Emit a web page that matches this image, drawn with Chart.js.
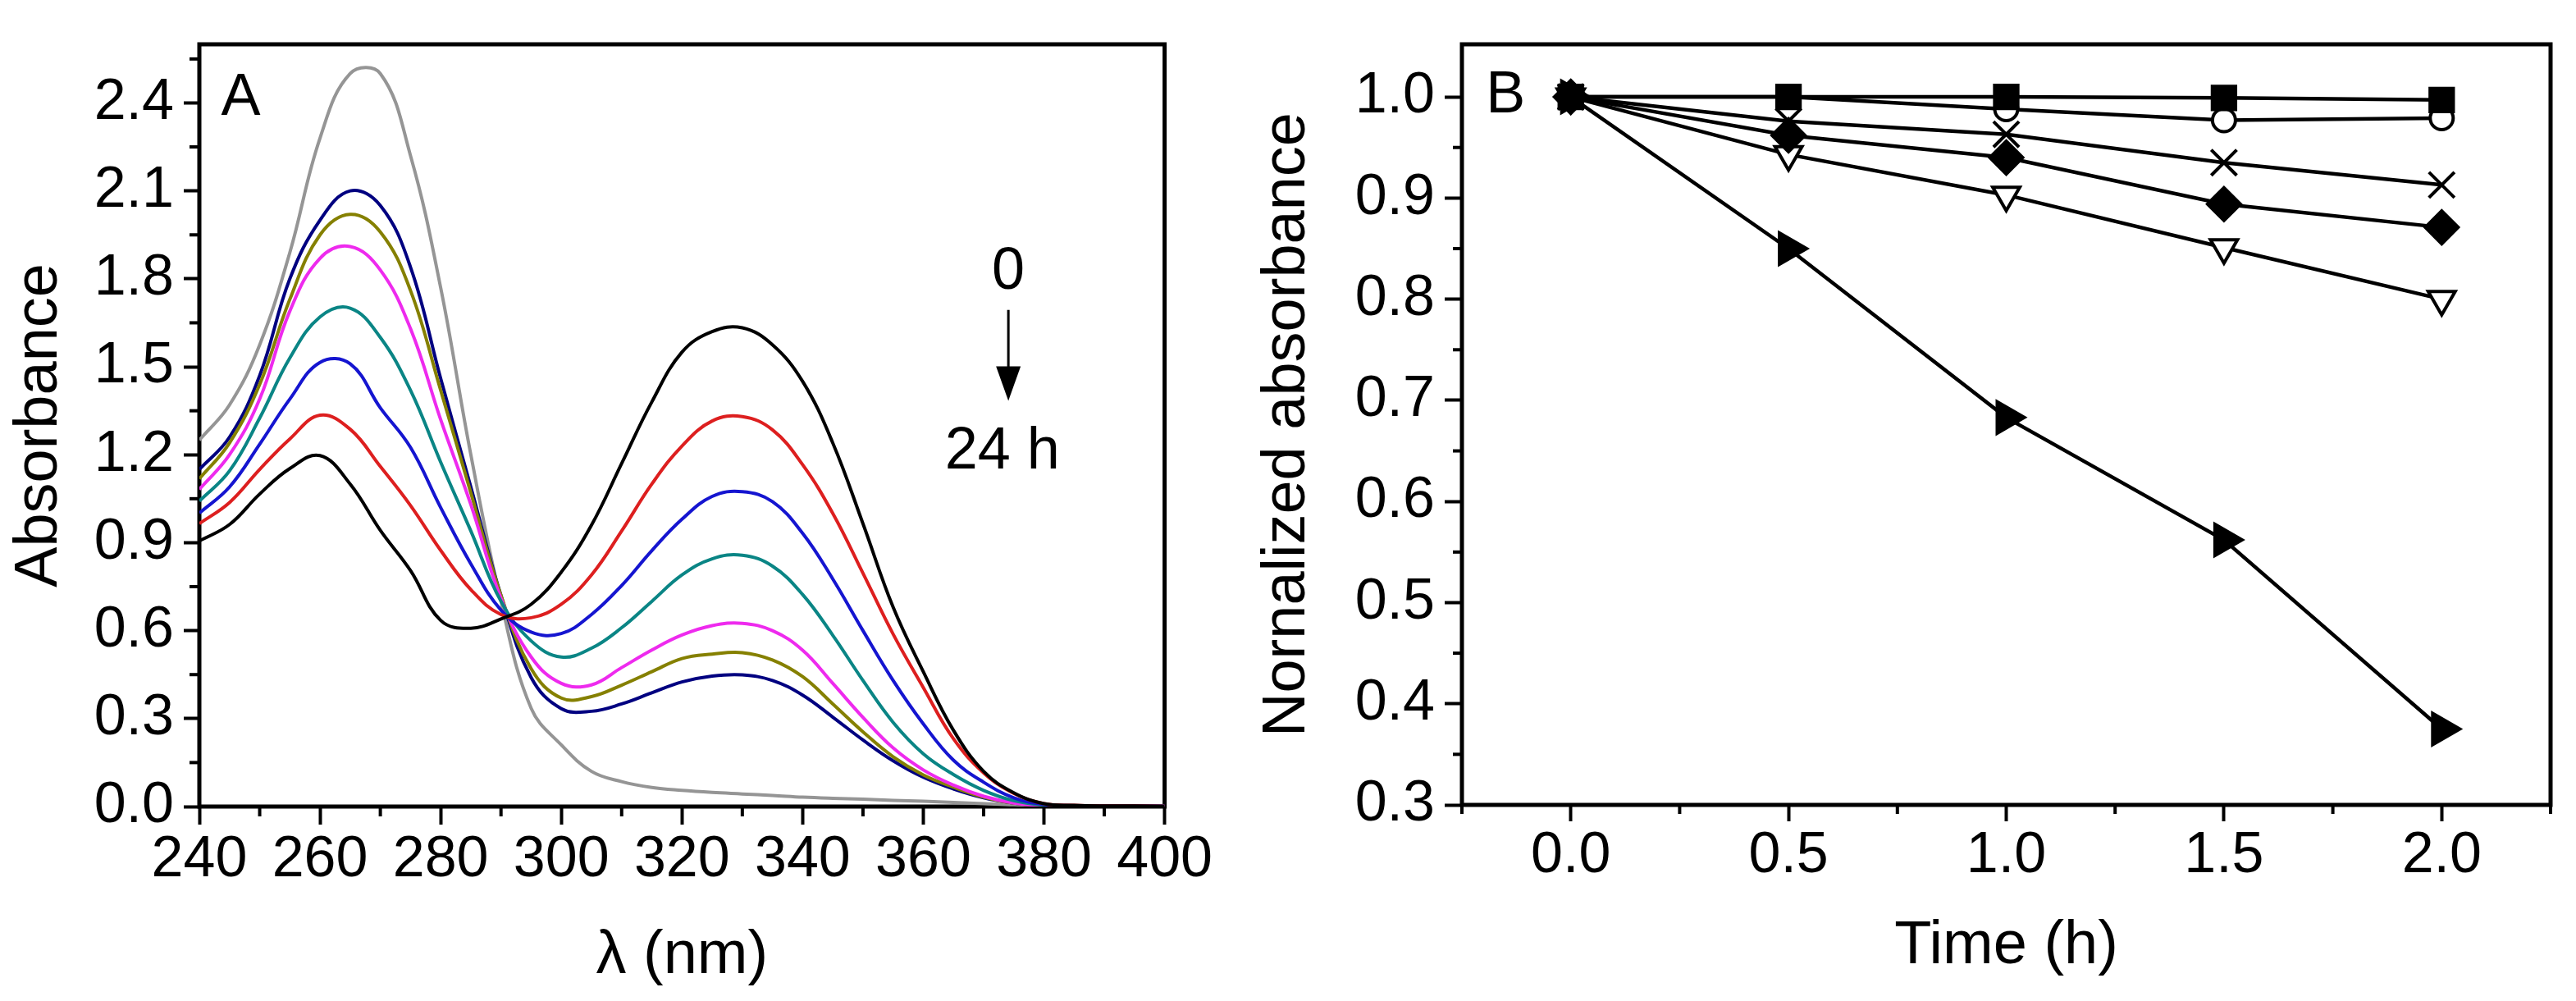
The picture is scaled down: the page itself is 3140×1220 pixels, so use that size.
<!DOCTYPE html>
<html><head><meta charset="utf-8">
<script src="https://cdn.jsdelivr.net/npm/chart.js@4.4.1/dist/chart.umd.min.js"></script>
<style>
html,body{margin:0;padding:0;background:#fff;width:3140px;height:1220px;overflow:hidden;}
#wrapA{position:absolute;left:0;top:0;width:1480px;height:1220px;}
#wrapB{position:absolute;left:1480px;top:0;width:1660px;height:1220px;}
canvas{display:block;}
</style></head><body>
<div id="wrapA"><canvas id="chartA" width="1480" height="1220"></canvas></div>
<div id="wrapB"><canvas id="chartB" width="1660" height="1220"></canvas></div>
<script>
// ---------- Panel A data: UV-vis spectra, 0 -> 24 h ----------
const wavelengths = [240,245,250,255,260,265,270,275,280,285,290,295,300,305,310,315,320,325,330,335,340,345,350,355,360,365,370,375,380,385,390,395,400];
const absBlack   = [0.906,0.962,1.066,1.153,1.197,1.10,0.942,0.805,0.635,0.608,0.64,0.69,0.80,0.96,1.17,1.38,1.55,1.62,1.633,1.575,1.45,1.24,0.965,0.68,0.46,0.26,0.12,0.047,0.01,0.004,0.002,0.002,0.001];
const absRed     = [0.965,1.037,1.15,1.254,1.335,1.287,1.16,1.027,0.874,0.74,0.655,0.644,0.69,0.79,0.94,1.10,1.23,1.315,1.33,1.285,1.166,1.0,0.796,0.588,0.406,0.231,0.115,0.045,0.01,0.004,0.002,0.002,0.001];
const absBlue    = [1.001,1.09,1.236,1.39,1.515,1.51,1.36,1.225,1.02,0.828,0.67,0.595,0.59,0.655,0.754,0.873,0.98,1.058,1.074,1.04,0.932,0.776,0.60,0.43,0.282,0.158,0.083,0.03,0.007,0.003,0.002,0.002,0.001];
const absTeal    = [1.042,1.145,1.325,1.53,1.67,1.70,1.60,1.42,1.175,0.94,0.70,0.565,0.51,0.54,0.61,0.70,0.79,0.845,0.857,0.82,0.723,0.584,0.43,0.287,0.18,0.109,0.055,0.02,0.005,0.002,0.002,0.001,0.001];
const absMagenta = [1.082,1.20,1.39,1.69,1.87,1.91,1.83,1.63,1.32,1.03,0.71,0.51,0.42,0.415,0.474,0.534,0.585,0.617,0.625,0.60,0.533,0.42,0.304,0.20,0.125,0.073,0.035,0.012,0.003,0.002,0.001,0.001,0.001];
const absOlive   = [1.118,1.24,1.44,1.73,1.95,2.02,1.96,1.76,1.42,1.07,0.72,0.47,0.37,0.375,0.414,0.46,0.505,0.52,0.525,0.50,0.443,0.35,0.255,0.17,0.108,0.066,0.032,0.012,0.003,0.002,0.001,0.001,0.001];
const absNavy    = [1.15,1.26,1.47,1.80,2.00,2.10,2.05,1.84,1.46,1.09,0.72,0.44,0.334,0.325,0.35,0.388,0.425,0.445,0.449,0.43,0.38,0.305,0.227,0.156,0.10,0.06,0.03,0.012,0.004,0.002,0.001,0.001,0.001];
const absGray    = [1.25,1.37,1.575,1.89,2.28,2.50,2.50,2.22,1.77,1.20,0.70,0.335,0.21,0.12,0.085,0.065,0.055,0.048,0.043,0.038,0.032,0.028,0.025,0.021,0.018,0.014,0.010,0.006,0.004,0.003,0.002,0.002,0.001];
const xTicksA = [240,260,280,300,320,340,360,380,400];
const xMinorA = [250,270,290,310,330,350,370,390];
const yTicksA = [0.0,0.3,0.6,0.9,1.2,1.5,1.8,2.1,2.4];
const yMinorA = [0.15,0.45,0.75,1.05,1.35,1.65,1.95,2.25,2.55];

// ---------- Panel B data: normalized absorbance vs time ----------
const timeB = [0, 0.5, 1.0, 1.5, 2.0];
const normSquare   = [1.0, 1.0, 1.0, 0.999, 0.997];
const normCircle   = [1.0, 1.0, 0.988, 0.977, 0.979];
const normCross    = [1.0, 0.976, 0.963, 0.935, 0.913];
const normDiamond  = [1.0, 0.962, 0.94, 0.894, 0.871];
const normDownTri  = [1.0, 0.943, 0.903, 0.851, 0.80];
const normRightTri = [1.0, 0.85, 0.683, 0.562, 0.375];
const xTicksB = [0, 0.5, 1.0, 1.5, 2.0];
const xMinorB = [-0.25, 0.25, 0.75, 1.25, 1.75, 2.25];
const yTicksB = [0.3,0.4,0.5,0.6,0.7,0.8,0.9,1.0];
const yMinorB = [0.35,0.45,0.55,0.65,0.75,0.85,0.95];

const FONT = "'Liberation Sans', Arial, Helvetica, sans-serif";
Chart.defaults.font.family = FONT;
Chart.defaults.color = '#000';

const frameAndMinor = {
  id: 'frameAndMinor',
  beforeDatasetsDraw(chart, args, o) {
    const ctx = chart.ctx, a = chart.chartArea;
    ctx.save();
    ctx.strokeStyle = '#000';
    ctx.lineCap = 'butt';
    ctx.lineWidth = o.tickWidth;
    (o.x || []).forEach(v => {
      const p = chart.scales.x.getPixelForValue(v);
      ctx.beginPath(); ctx.moveTo(p, a.bottom); ctx.lineTo(p, a.bottom + o.lenX); ctx.stroke();
    });
    (o.y || []).forEach(v => {
      const p = chart.scales.y.getPixelForValue(v);
      ctx.beginPath(); ctx.moveTo(a.left, p); ctx.lineTo(a.left - o.lenY, p); ctx.stroke();
    });
    ctx.lineWidth = o.frame;
    ctx.strokeRect(a.left, a.top, a.right - a.left, a.bottom - a.top);
    ctx.restore();
  }
};

const notes = {
  id: 'notes',
  afterDraw(chart, args, o) {
    const ctx = chart.ctx, sx = chart.scales.x, sy = chart.scales.y;
    ctx.save();
    ctx.fillStyle = '#000'; ctx.strokeStyle = '#000';
    ctx.textBaseline = 'alphabetic';
    (o.texts || []).forEach(t => {
      ctx.font = t.size + 'px ' + FONT;
      ctx.textAlign = t.align;
      ctx.fillText(t.text, sx.getPixelForValue(t.x), sy.getPixelForValue(t.y));
    });
    if (o.arrow) {
      const ar = o.arrow;
      const x = sx.getPixelForValue(ar.x);
      const y1 = sy.getPixelForValue(ar.from), y2 = sy.getPixelForValue(ar.to);
      const hy = y2 - 42;
      ctx.lineWidth = 3;
      ctx.beginPath(); ctx.moveTo(x, y1); ctx.lineTo(x, hy + 4); ctx.stroke();
      ctx.beginPath(); ctx.moveTo(x - 15, hy); ctx.lineTo(x + 15, hy); ctx.lineTo(x, y2); ctx.closePath(); ctx.fill();
    }
    ctx.restore();
  }
};

function fixedTicks(arr) { return s => { s.ticks = arr.map(v => ({value: v})); }; }
function pts(xs, ys) { return xs.map((x, i) => ({x: x, y: ys[i]})); }

function spec(label, color, ys) {
  return { label, data: pts(wavelengths, ys), borderColor: color, backgroundColor: color,
    borderWidth: 4, pointRadius: 0, tension: 0.4, fill: false };
}

new Chart(document.getElementById('chartA'), {
  type: 'line',
  data: { datasets: [
    spec('0 h', '#000000', absBlack),
    spec('t2', '#dd1f1f', absRed),
    spec('t3', '#1515d0', absBlue),
    spec('t4', '#0a8585', absTeal),
    spec('t5', '#ee2aee', absMagenta),
    spec('t6', '#858000', absOlive),
    spec('24 h', '#000080', absNavy),
    spec('final', '#959595', absGray)
  ]},
  options: {
    responsive: false, animation: false, devicePixelRatio: 1,
    layout: { padding: { left: 0, top: 28, right: 25, bottom: 0 } },
    plugins: {
      legend: { display: false }, tooltip: { enabled: false },
      frameAndMinor: { x: xMinorA, y: yMinorA, lenX: 12, lenY: 12, tickWidth: 4, frame: 5 },
      notes: {
        texts: [
          { text: 'A', x: 243.6, y: 2.36, size: 72, align: 'left' },
          { text: '0', x: 374.1, y: 1.765, size: 72, align: 'center' },
          { text: '24 h', x: 373.1, y: 1.153, size: 72, align: 'center' }
        ],
        arrow: { x: 374.1, from: 1.694, to: 1.384 }
      }
    },
    scales: {
      x: {
        type: 'linear', min: 240, max: 400,
        afterBuildTicks: fixedTicks(xTicksA),
        afterFit: s => { s.height = 237; },
        border: { display: false },
        grid: { drawOnChartArea: false, drawTicks: true, tickLength: 22, tickWidth: 4, tickColor: '#000' },
        ticks: { autoSkip: false, maxRotation: 0, padding: 2, font: { size: 70, lineHeight: 1.2 }, color: '#000', callback: v => String(v) },
        title: { display: true, text: 'λ (nm)', font: { size: 74, lineHeight: 1.2 }, color: '#000', padding: { top: 0, bottom: 10 } }
      },
      y: {
        type: 'linear', min: 0, max: 2.6,
        afterBuildTicks: fixedTicks(yTicksA),
        afterFit: s => { s.width = 243; },
        border: { display: false },
        grid: { drawOnChartArea: false, drawTicks: true, tickLength: 19, tickWidth: 4, tickColor: '#000' },
        ticks: { autoSkip: false, padding: 12, font: { size: 70, lineHeight: 1.2 }, color: '#000', callback: v => v.toFixed(1) },
        title: { display: true, text: 'Absorbance', font: { size: 74, lineHeight: 1.2 }, color: '#000', padding: { top: 4, bottom: 0 } }
      }
    }
  },
  plugins: [frameAndMinor, notes]
});

function kin(label, ys, style, radius, fillColor, rotation) {
  return { label, data: pts(timeB, ys), borderColor: '#000', backgroundColor: '#000', borderWidth: 4.5,
    tension: 0, fill: false, pointStyle: style, pointRadius: radius, pointRotation: rotation || 0,
    pointBackgroundColor: fillColor, pointBorderColor: '#000', pointBorderWidth: 4 };
}

new Chart(document.getElementById('chartB'), {
  type: 'line',
  data: { datasets: [
    kin('square', normSquare, 'rect', 20, '#000'),
    kin('diamond', normDiamond, 'rectRot', 20, '#000'),
    kin('right triangle', normRightTri, 'triangle', 22, '#000', 90),
    kin('cross', normCross, 'crossRot', 22, '#000'),
    kin('circle', normCircle, 'circle', 14, '#fff'),
    kin('down triangle', normDownTri, 'triangle', 19, '#fff', 180)
  ]},
  options: {
    responsive: false, animation: false, devicePixelRatio: 1,
    layout: { padding: { left: 0, top: 28, right: 31, bottom: 0 } },
    plugins: {
      legend: { display: false }, tooltip: { enabled: false },
      frameAndMinor: { x: xMinorB, y: yMinorB, lenX: 11, lenY: 11, tickWidth: 4, frame: 5 },
      notes: { texts: [ { text: 'B', x: -0.195, y: 0.985, size: 72, align: 'left' } ] }
    },
    scales: {
      x: {
        type: 'linear', min: -0.25, max: 2.25,
        afterBuildTicks: fixedTicks(xTicksB),
        afterFit: s => { s.height = 239; },
        border: { display: false },
        grid: { drawOnChartArea: false, drawTicks: true, tickLength: 20, tickWidth: 4, tickColor: '#000' },
        ticks: { autoSkip: false, maxRotation: 0, padding: 1, font: { size: 70, lineHeight: 1.2 }, color: '#000', callback: v => v.toFixed(1) },
        title: { display: true, text: 'Time (h)', font: { size: 74, lineHeight: 1.2 }, color: '#000', padding: { top: 0, bottom: 22 } }
      },
      y: {
        type: 'linear', min: 0.3, max: 1.052,
        afterBuildTicks: fixedTicks(yTicksB),
        afterFit: s => { s.width = 302; },
        border: { display: false },
        grid: { drawOnChartArea: false, drawTicks: true, tickLength: 21, tickWidth: 4, tickColor: '#000' },
        ticks: { autoSkip: false, padding: 12, font: { size: 70, lineHeight: 1.2 }, color: '#000', callback: v => v.toFixed(1) },
        title: { display: true, text: 'Nornalized absorbance', font: { size: 74, lineHeight: 1.2 }, color: '#000', padding: { top: 45, bottom: 0 } }
      }
    }
  },
  plugins: [frameAndMinor, notes]
});
</script>
</body></html>
